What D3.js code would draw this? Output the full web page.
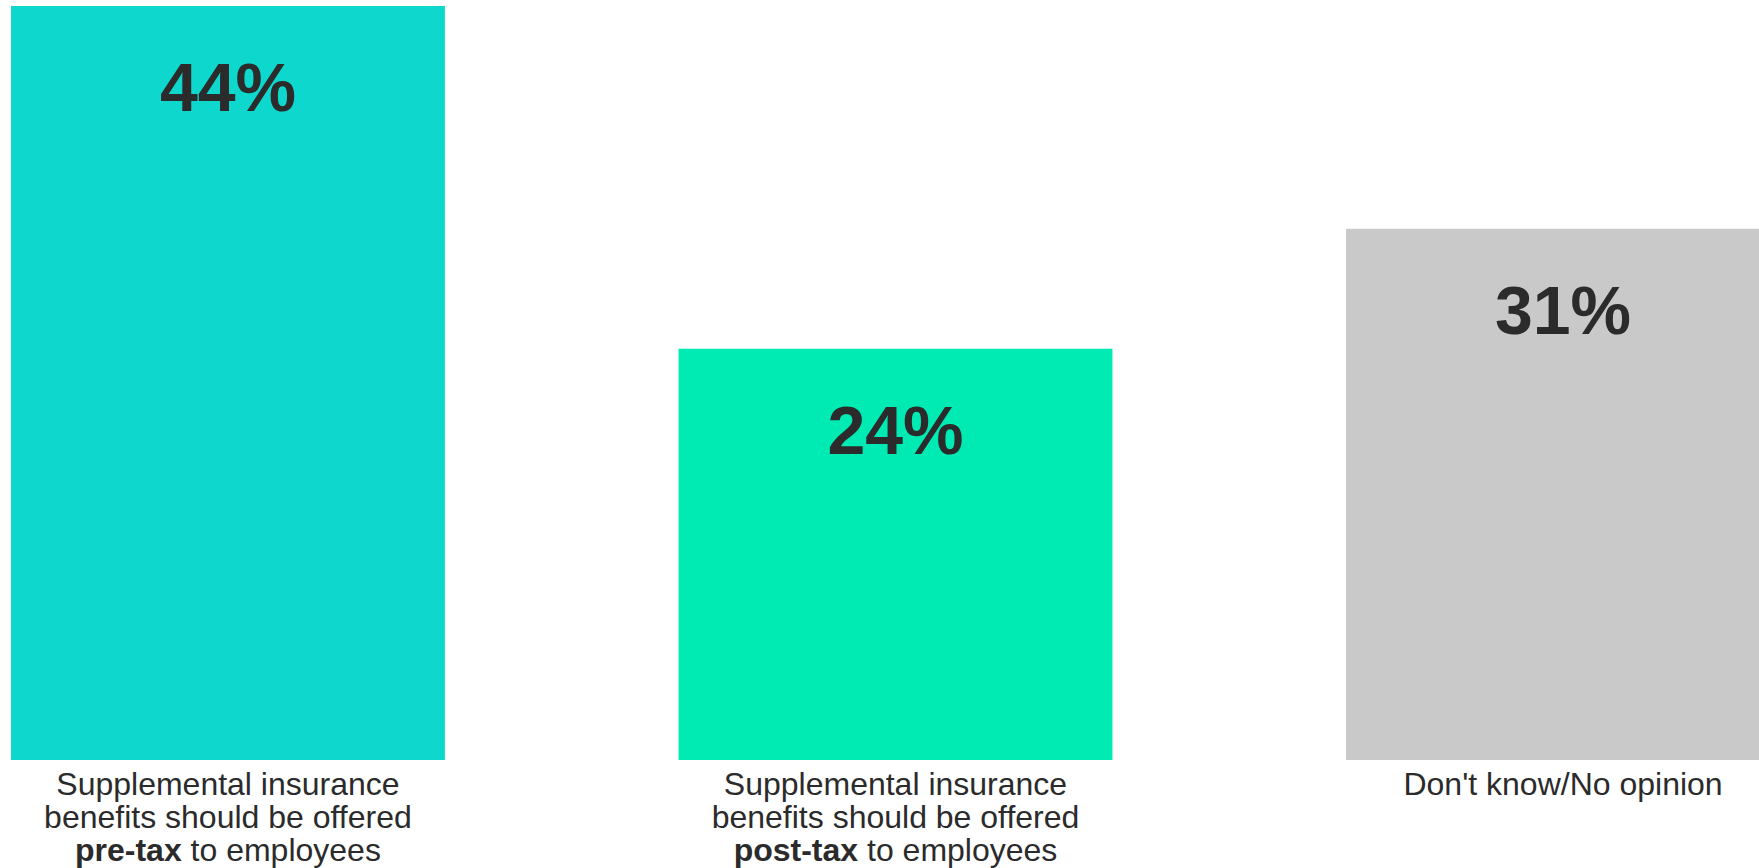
<!DOCTYPE html>
<html>
<head>
<meta charset="utf-8">
<script src="https://cdn.jsdelivr.net/npm/d3@7"></script>
<style>
  html, body { margin: 0; padding: 0; background: #ffffff; overflow: hidden; }
  svg { display: block; }
  text { font-family: "Liberation Sans", Arial, Helvetica, sans-serif; fill: #2b2b2b; }
</style>
</head>
<body>
<svg id="chart" width="1759" height="868"></svg>
<script>
// Survey answers and their shares (percent)
const categories = ["pre-tax", "post-tax", "no-opinion"];
const values = [44, 24, 31];
const barColors = ["#0ed7ce", "#00eab4", "#c9c9c9"];

// Category captions: each line is a list of [text, isBold] pieces
const captionLines = [
  [[["Supplemental insurance", false]], [["benefits should be offered", false]], [["pre-tax", true], [" to employees", false]]],
  [[["Supplemental insurance", false]], [["benefits should be offered", false]], [["post-tax", true], [" to employees", false]]],
  [[["Don't know/No opinion", false]]]
];

const width = 1759, height = 868;
const baseY = 760;          // bar baseline
const topY = 6;             // y of the tallest bar's top
const svg = d3.select("#chart");

const x = d3.scaleBand()
  .domain(categories)
  .range([11, 11 + 2 * 667.5 + 434])
  .paddingInner(0.35)
  .paddingOuter(0);

const y = d3.scaleLinear()
  .domain([0, 44])
  .range([baseY, topY]);

const g = svg.append("g");

// Bars
g.selectAll("rect.bar")
  .data(values)
  .join("rect")
  .attr("class", "bar")
  .attr("x", (d, i) => x(categories[i]))
  .attr("y", d => y(d))
  .attr("width", x.bandwidth())
  .attr("height", d => baseY - y(d))
  .attr("fill", (d, i) => barColors[i]);

// Value labels inside bars, near the top
g.selectAll("text.value")
  .data(values)
  .join("text")
  .attr("class", "value")
  .attr("x", (d, i) => x(categories[i]) + x.bandwidth() / 2)
  .attr("y", d => y(d) + 105)
  .attr("text-anchor", "middle")
  .style("font-size", "68px")
  .style("font-weight", "bold")
  .text(d => d + "%");

// Category captions under the bars (one text block per caption)
const firstLineY = 795;
const lineStep = 33;
captionLines.forEach((lines, i) => {
  const cx = x(categories[i]) + x.bandwidth() / 2;
  const t = g.append("text")
    .attr("x", cx)
    .attr("y", firstLineY)
    .attr("text-anchor", "middle")
    .style("font-size", "32px");
  lines.forEach((pieces, li) => {
    const line = t.append("tspan")
      .attr("x", cx)
      .attr("y", firstLineY + li * lineStep);
    pieces.forEach(([txt, bold]) => {
      line.append("tspan")
        .style("font-weight", bold ? "bold" : "normal")
        .text(txt);
    });
  });
});
</script>
</body>
</html>
